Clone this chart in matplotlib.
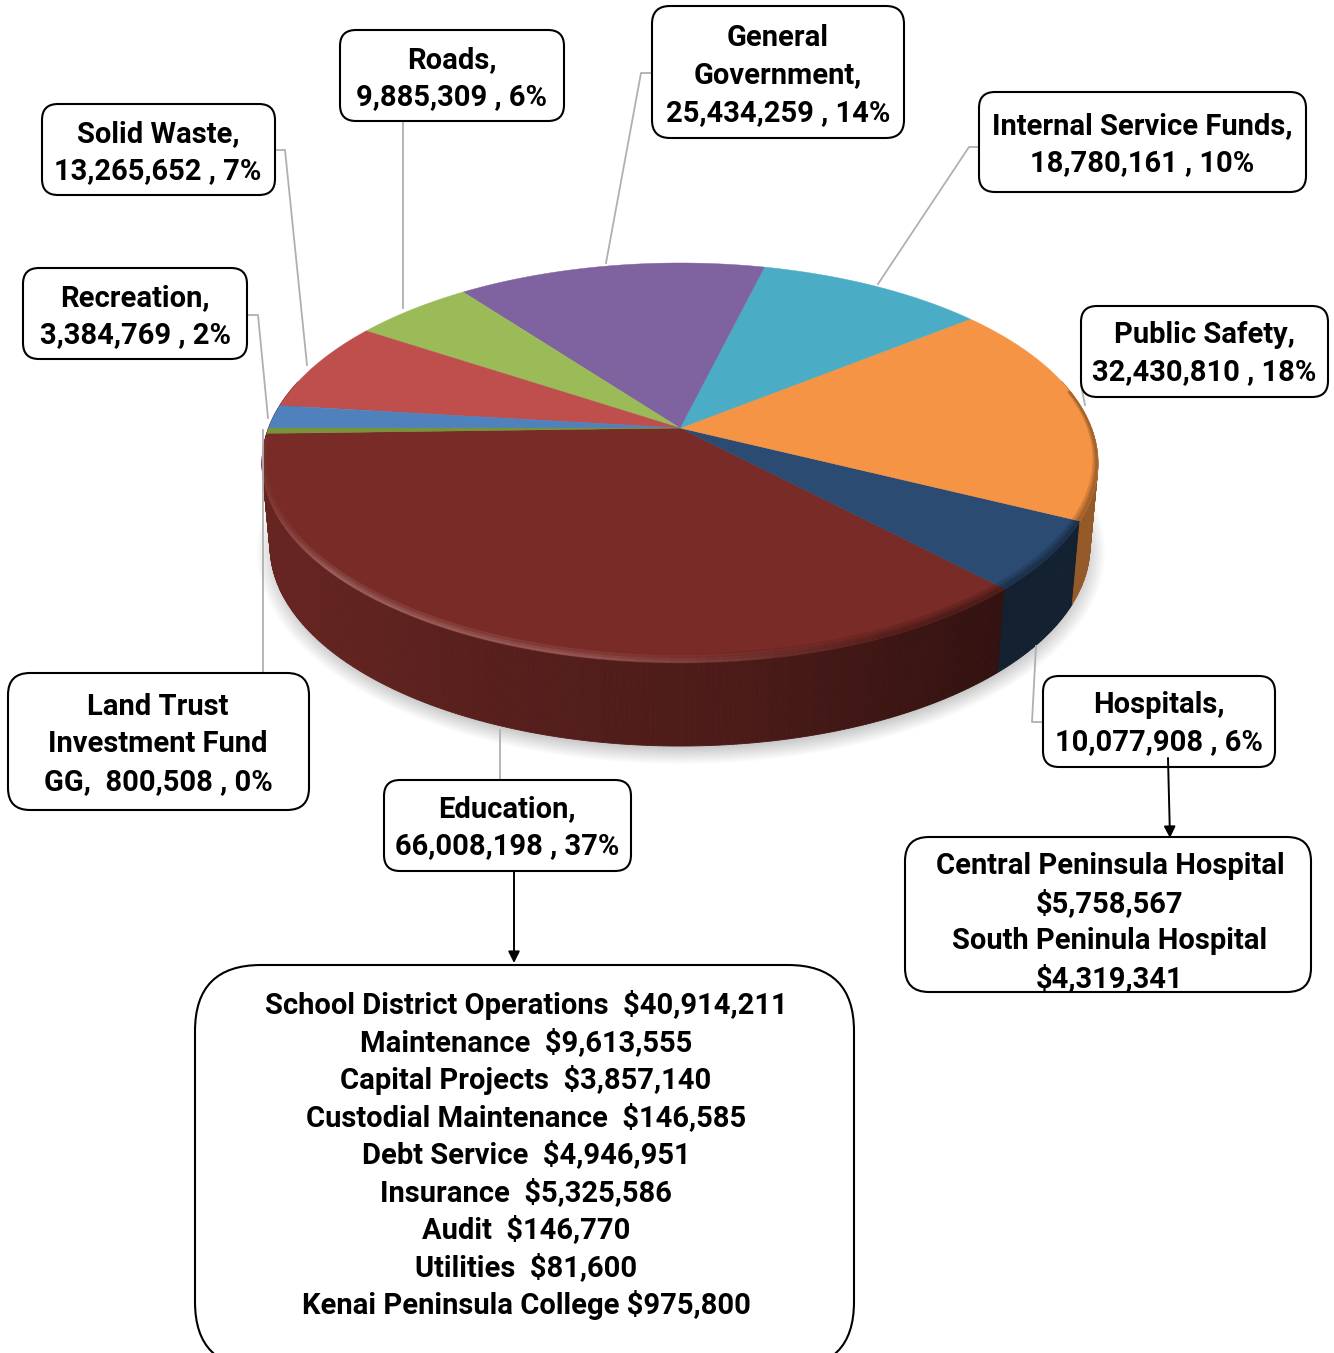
import numpy as np
import matplotlib
matplotlib.use("Agg")
import matplotlib.pyplot as plt
from matplotlib.patches import FancyBboxPatch, Ellipse, Polygon
from matplotlib.colors import to_rgb

plt.rcParams["font.family"] = ["Roboto", "DejaVu Sans"]

# slices, counter clockwise starting from the left edge of the pie
names = ["Education", "Hospitals", "Public Safety", "Internal Service Funds", "General Government",
         "Roads", "Solid Waste", "Recreation", "Land Trust Investment Fund GG"]
values = [66008198, 10077908, 32430810, 18780161, 25434259, 9885309, 13265652, 3384769, 800508]
percents = [37, 6, 18, 10, 14, 6, 7, 2, 0]
colors = ["#782b27", "#2b4b72", "#f59444", "#4bacc6", "#7f62a0", "#9bbb59", "#be4f4c", "#4f81bd", "#77933c"]
rim_gain = [1.0, 1.0, 1.45]

hospital_lines = ["Central Peninsula Hospital", "$5,758,567", "South Peninula Hospital", "$4,319,341"]
school_lines = ["School District Operations  $40,914,211", "Maintenance  $9,613,555",
                "Capital Projects  $3,857,140", "Custodial Maintenance  $146,585",
                "Debt Service  $4,946,951", "Insurance  $5,325,586", "Audit  $146,770",
                "Utilities  $81,600", "Kenai Peninsula College $975,800"]

W, H = 1334, 1353
CX, CY = 680, 428    # where the slices meet
FS = 21


def top_xy(theta):
    # circle seen in perspective, so the centre sits above the middle of the ellipse
    u, v = np.cos(theta), np.sin(theta)
    d = 1 + 0.175 * v
    return CX + 411.5 * u / d, (CY - 119 * v) / d


def low_xy(theta):
    x, y = top_xy(theta)
    return CX + (x - CX) * 410 / 418, y + 83


def label(val, pct):
    return f"{val:,} , {pct}%"


fig = plt.figure(figsize=(W / 100, H / 100), dpi=100)
ax = fig.add_axes([0, 0, 1, 1])
ax.set_xlim(0, W)
ax.set_ylim(H, 0)
ax.axis("off")

# soft shadow under the pie
for i in range(14):
    ax.add_patch(Ellipse((681, 552), 2 * (424 - i * 1.6), 2 * (212 - i * 1.3), fc="black", ec="none", alpha=0.016, zorder=1))

edges = np.cumsum([0] + values) / sum(values) * 2 * np.pi + np.radians(181.6)

# rim of the pie, only the three front slices show one
for k in range(3):
    start = edges[k] - np.radians(16) if k == 0 else edges[k]
    steps = np.linspace(start, edges[k + 1], max(3, 2 * int(np.degrees(edges[k + 1] - start))))
    base = np.array(to_rgb(colors[k]))
    for a, b in zip(steps[:-1], steps[1:]):
        if k == 2 and np.sin((a + b) / 2) > 0.25:
            continue
        xa, ya = top_xy(a)
        xb, yb = top_xy(b)
        xc, yc = low_xy(b)
        xd, yd = low_xy(a)
        shade = np.interp((xa + xb) / 2, [262, 500, 750, 1000, 1100], [0.86, 0.72, 0.62, 0.42, 0.42])
        c = np.clip(base * shade * rim_gain[k], 0, 1)
        ax.fill([xa, xb, xc, xd], [ya, yb, yc, yd], color=c, lw=0.6, zorder=2)

# top faces
for k in range(len(values)):
    t = np.linspace(edges[k], edges[k + 1], 200)
    x, y = top_xy(t)
    ax.fill(np.r_[CX, x], np.r_[CY, y], color=colors[k], lw=0.3, zorder=3)

# soft bevel along the front edge: light on the left, dark on the right
outline = Polygon(np.column_stack(top_xy(np.linspace(0, 2 * np.pi, 400))), transform=ax.transData)
t = np.radians(np.arange(184, 372, 1.0))
for a, b in zip(t[:-1], t[1:]):
    xa, ya = top_xy(np.array([a, b]))
    mid = xa.mean()
    light = np.interp(mid, [262, 330, 600, 900], [0.02, 0.09, 0.07, 0.0])
    dark = np.interp(mid, [600, 950, 1090], [0.0, 0.12, 0.12])
    for off, lw in [(4, 6), (2.5, 3.5), (1.5, 1.5)]:
        if light > 0:
            ln, = ax.plot(xa, ya - off, color="white", alpha=light, lw=lw, solid_capstyle="butt", zorder=4)
            ln.set_clip_path(outline)
        if dark > 0:
            ln, = ax.plot(xa, ya - off, color="black", alpha=dark, lw=lw + 2, solid_capstyle="butt", zorder=4)
            ln.set_clip_path(outline)

# grey leader lines
leaders = [([275, 285, 307], [150, 150, 365]),
           ([403, 403], [121, 308]),
           ([652, 641, 606], [73, 73, 263]),
           ([979, 969, 878], [147, 147, 284]),
           ([1081, 1085], [385, 405]),
           ([247, 258, 268], [315, 315, 418]),
           ([263, 263], [673, 430]),
           ([500, 500], [780, 730]),
           ([1043, 1032, 1036], [722, 722, 646])]
for lx, ly in leaders:
    ax.plot(lx, ly, color="#b0b0b0", lw=1.3, zorder=5)


def box(x0, y0, x1, y1, r, lines, xc, yt, step=37.5):
    ax.add_patch(FancyBboxPatch((x0, y0), x1 - x0, y1 - y0, boxstyle=f"round,pad=0,rounding_size={r}",
                                fc="white", ec="black", lw=1.5, zorder=6))
    for i, s in enumerate(lines):
        ax.text(xc, yt + i * step, s, ha="center", va="center", fontsize=FS, fontweight="bold",
                color="black", zorder=7)


box(340, 30, 564, 121, 16, ["Roads,", label(values[5], percents[5])], 452, 60)
box(652, 6, 904, 138, 18, ["General", "Government,", label(values[4], percents[4])], 778, 38)
box(979, 92, 1306, 192, 16, ["Internal Service Funds,", label(values[3], percents[3])], 1142, 126)
box(1081, 306, 1328, 397, 16, ["Public Safety,", label(values[2], percents[2])], 1204, 335)
box(42, 104, 275, 195, 16, ["Solid Waste,", label(values[6], percents[6])], 158, 134)
box(23, 268, 247, 359, 16, ["Recreation,", label(values[7], percents[7])], 135, 298)
box(8, 673, 309, 810, 22, ["Land Trust", "Investment Fund", "GG,  " + label(values[8], percents[8])], 158, 707)
box(1043, 676, 1275, 767, 16, ["Hospitals,", label(values[1], percents[1])], 1159, 705)
box(384, 780, 631, 871, 16, ["Education,", label(values[0], percents[0])], 507, 809)
box(905, 837, 1311, 992, 24, hospital_lines, 1110, 866)
box(195, 965, 854, 1368, 66, school_lines, 526, 1005)

# black arrows to the breakdown boxes
for xy, xytext in [((1170, 838), (1168, 758)), ((514, 963), (514, 871))]:
    ax.annotate("", xy=xy, xytext=xytext, zorder=8,
                arrowprops=dict(arrowstyle="-|>", color="black", lw=1.4, mutation_scale=17, shrinkA=0, shrinkB=0))

fig.savefig("out.png", dpi=100)
